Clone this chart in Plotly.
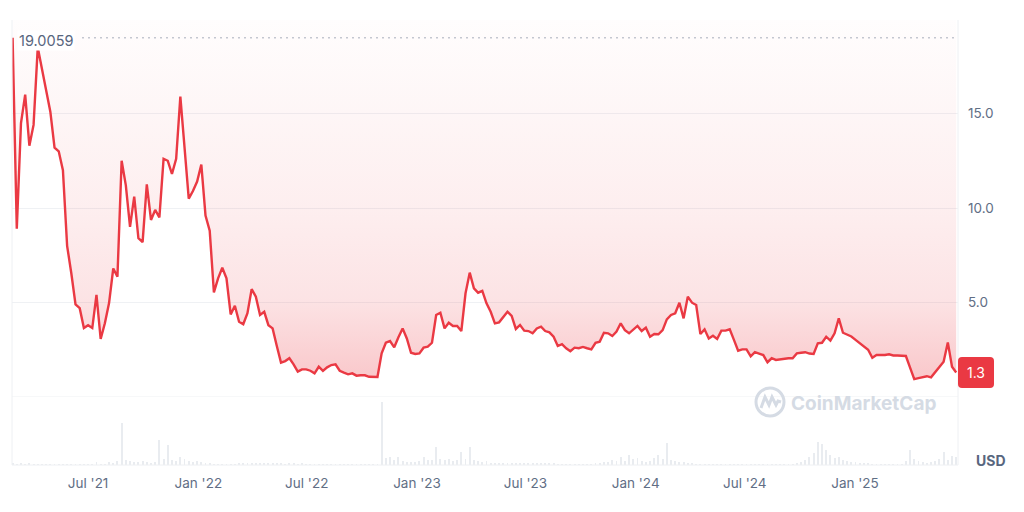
import pandas as pd
import plotly.graph_objects as go

# ---- data (weekly) ----
start_date = "2021-02-25"
price = [
    19.0059, 8.9, 14.5, 16.0, 13.3, 14.4, 18.5, 17.3, 16.2, 15.1,
    13.2, 13.0, 12.0, 8.0, 6.55, 4.9, 4.7, 3.65, 3.8, 3.65,
    5.4, 3.07, 3.9, 4.97, 6.8, 6.37, 12.5, 11.2, 9.0, 10.6,
    8.4, 8.2, 11.25, 9.37, 9.9, 9.5, 12.6, 12.5, 11.8, 12.6,
    15.9, 13.2, 10.5, 10.9, 11.4, 12.3, 9.6, 8.8, 5.54, 6.28,
    6.84, 6.28, 4.37, 4.83, 3.98, 3.85, 4.43, 5.71, 5.31, 4.34,
    4.51, 3.8, 3.63, 2.7, 1.82, 1.9, 2.05, 1.73, 1.34, 1.46,
    1.46, 1.39, 1.25, 1.6, 1.38, 1.57, 1.69, 1.73, 1.39, 1.29,
    1.2, 1.25, 1.13, 1.15, 1.15, 1.07, 1.06, 1.06, 2.31, 2.87,
    2.96, 2.63, 3.16, 3.63, 3.1, 2.34, 2.28, 2.31, 2.61, 2.66,
    2.87, 4.34, 4.46, 3.63, 3.93, 3.76, 3.76, 3.49, 5.49, 6.58,
    5.75, 5.52, 5.62, 4.96, 4.51, 3.9, 3.95, 4.22, 4.51, 4.29,
    3.6, 3.81, 3.51, 3.49, 3.37, 3.63, 3.72, 3.49, 3.42, 3.19,
    2.7, 2.8, 2.58, 2.42, 2.61, 2.58, 2.65, 2.58, 2.52, 2.87,
    2.93, 3.4, 3.37, 3.23, 3.46, 3.9, 3.54, 3.37, 3.54, 3.76,
    3.49, 3.67, 3.19, 3.33, 3.32, 3.54, 4.11, 4.34, 4.43, 4.99,
    4.16, 5.31, 4.99, 4.87, 3.33, 3.58, 3.1, 3.24, 3.07, 3.51,
    3.51, 3.58, 3.02, 2.45, 2.52, 2.52, 2.15, 2.37, 2.3, 2.22,
    1.84, 2.05, 1.96, 2.0, 2.05, 2.05, 2.05, 2.31, 2.34, 2.37,
    2.3, 2.28, 2.84, 2.87, 3.19, 2.98, 3.37, 4.16, 3.4, 3.32,
    3.2, 3.02, 2.85, 2.68, 2.5, 2.08, 2.22, 2.22, 2.22, 2.26,
    2.2, 2.2, 2.18, 2.17, 1.55, 0.95, 1.0, 1.05, 1.1, 1.04,
    1.3, 1.62, 1.87, 2.89, 1.6, 1.3,
]
volume = [
    2, 1, 2, 1, 2, 1, 0.5, 0.5, 0.5, 0.5,
    0.5, 0.5, 0.5, 0.5, 0.5, 0.5, 0.5, 0.5, 0.5, 0.5,
    3, 1, 1, 3, 2, 4, 42, 5, 4, 3,
    3, 4, 3, 2, 3, 25, 6, 20, 5, 4,
    8, 6, 4, 3, 4, 3, 2, 2, 1, 1,
    0.5, 0.5, 0.5, 0.5, 2, 1.5, 2, 1.5, 2, 1.5,
    2, 1.5, 2, 1.5, 2, 1, 2.5, 2, 1, 2,
    0.3, 0.3, 0.3, 0.3, 0.3, 0.3, 0.3, 0.3, 0.3, 0.3,
    0.3, 0.3, 0.3, 0.3, 0.3, 0.3, 0.3, 0.3, 63, 7,
    8, 5, 8, 4, 3, 3, 3, 4, 8, 5,
    5, 18, 6, 5, 6, 4, 5, 13, 6, 18,
    5, 4, 3, 4, 2, 2, 2, 1.5, 1.5, 1.5,
    1.5, 1.5, 1.5, 1.5, 1.5, 1.5, 1.5, 1.5, 1.5, 1.5,
    0.5, 0.5, 0.5, 0.5, 0.5, 0.5, 0.5, 0.5, 0.5, 2,
    2, 3, 3, 5, 4, 8, 4, 10, 6, 7,
    4, 3, 4, 7, 10, 6, 22, 5, 4, 3,
    3, 2, 2, 1, 0.5, 0.5, 0.5, 0.5, 0.5, 0.5,
    0.5, 0.5, 0.5, 0.5, 0.5, 0.5, 0.5, 0.5, 0.5, 0.5,
    0.5, 0.5, 0.5, 0.5, 0.5, 0.5, 0.5, 2, 3, 5,
    8, 12, 23, 21, 15, 10, 7, 8, 5, 4,
    3, 3, 2, 2, 2, 0.5, 0.5, 0.5, 0.5, 0.5,
    0.5, 0.5, 1, 4, 15, 6, 4, 3, 2, 3,
    4, 6, 13, 5, 9, 8,
]
y_ticks = [5.0, 10.0, 15.0]
y_tick_labels = ["5.0", "10.0", "15.0"]
max_label = "19.0059"
last_label = "1.3"
currency = "USD"

dates = pd.date_range(start_date, periods=len(price), freq="7D")

RED = "#ea3943"
TXT = "#616e85"
FONT = "Inter"
Y_MAX = 19.95

# the page body adds an 8px offset; figure is sized to fill the rest of the window
OFF = 8
W, HGT = 1024 - OFF, 512 - OFF
plot_left, plot_right = 12 - OFF, 958 - OFF
plot_top, plot_bot = 20 - OFF, 465 - OFF
PW = plot_right - plot_left
H = plot_bot - plot_top
vol_top = (465 - 398) / H
price_bot = (465 - 397) / H


def py(p):  # screen pixel y -> paper
    return (465 - p) / H


def px(p):  # screen pixel x -> paper
    return (p - 12) / PW


fig = go.Figure()

# upper boundary of the shaded band (top of the price pane)
fig.add_trace(go.Scatter(
    x=dates, y=[Y_MAX] * len(dates), mode="lines", line=dict(width=0, color="rgba(0,0,0,0)"),
    xaxis="x", yaxis="y", showlegend=False, hoverinfo="skip",
))

fig.add_trace(go.Scatter(
    x=dates, y=price, mode="lines",
    line=dict(color=RED, width=2.4),
    fill="tonexty",
    fillgradient=dict(
        type="vertical", start=0, stop=Y_MAX,
        colorscale=[
            [0.0, "rgba(234,57,67,0.32)"],
            [0.06, "rgba(234,57,67,0.27)"],
            [0.26, "rgba(234,57,67,0.14)"],
            [0.50, "rgba(234,57,67,0.085)"],
            [0.76, "rgba(234,57,67,0.045)"],
            [1.0, "rgba(234,57,67,0.01)"],
        ],
    ),
    xaxis="x", yaxis="y", showlegend=False, hoverinfo="skip",
))

fig.add_trace(go.Bar(
    x=dates, y=volume, marker=dict(color="#e9ecf0", line=dict(width=0)),
    width=1.5 * 86400000, xaxis="x", yaxis="y2", showlegend=False, hoverinfo="skip",
))

fig.update_layout(
    width=W, height=HGT,
    margin=dict(l=plot_left, r=W - plot_right, t=plot_top, b=HGT - plot_bot, pad=0),
    paper_bgcolor="white", plot_bgcolor="white",
    font=dict(family=FONT, color=TXT, size=13),
    bargap=0,
    xaxis=dict(
        type="date", range=["2021-02-24", "2025-06-22"],
        tick0="2021-07-01", dtick="M6", tickformat="%b '%y",
        showgrid=False, zeroline=False, showline=False, ticks="",
        tickfont=dict(size=13.5, color=TXT, family=FONT),
        ticklabelstandoff=8, anchor="y2",
    ),
    yaxis=dict(
        domain=[price_bot, 1], range=[0, Y_MAX], side="right",
        tickvals=y_ticks, ticktext=y_tick_labels,
        showgrid=True, gridcolor="#eff1f4", gridwidth=1,
        zeroline=False, showline=False, ticks="",
        tickfont=dict(size=13.5, color=TXT, family=FONT),
        ticklabelstandoff=9,
    ),
    yaxis2=dict(
        domain=[0, vol_top], range=[0, 67], showgrid=False, zeroline=False,
        showticklabels=False, showline=False, ticks="",
    ),
)

shapes = []
# frame lines
shapes.append(dict(type="line", xref="paper", yref="paper", x0=1, x1=1, y0=0, y1=1,
                   line=dict(color="#eef0f3", width=1)))
shapes.append(dict(type="line", xref="paper", yref="paper", x0=0, x1=0, y0=0, y1=1,
                   line=dict(color="#eef0f3", width=1)))
shapes.append(dict(type="line", xref="paper", yref="paper", x0=0, x1=1, y0=0, y1=0,
                   line=dict(color="#eef0f3", width=1)))
shapes.append(dict(type="line", xref="paper", yref="y", x0=0, x1=1, y0=0, y1=0,
                   line=dict(color="#eef0f3", width=1)))
# max dotted line
shapes.append(dict(type="line", xref="paper", yref="y", x0=px(82), x1=1,
                   y0=price[0], y1=price[0],
                   line=dict(color="#a7aebb", width=1, dash="2px,4px")))
# watermark logo
shapes.append(dict(type="circle", xref="paper", yref="paper",
                   x0=px(756), x1=px(784), y0=py(416), y1=py(388),
                   line=dict(color="#d5dbe4", width=3)))
wave = [(761, 408), (765, 397), (769, 405), (772, 397), (776, 405), (778, 401), (781, 402)]
path = "M " + " L ".join(f"{px(a):.5f},{py(b):.5f}" for a, b in wave)
shapes.append(dict(type="path", xref="paper", yref="paper", path=path,
                   line=dict(color="#d5dbe4", width=3)))
# rounded red badge for the last price (pixel-sized, anchored at the last value)
bw, bh, r = 36, 31, 4
badge = (f"M {r},{-bh/2} L {bw-r},{-bh/2} Q {bw},{-bh/2} {bw},{-bh/2+r} "
         f"L {bw},{bh/2-r} Q {bw},{bh/2} {bw-r},{bh/2} L {r},{bh/2} "
         f"Q 0,{bh/2} 0,{bh/2-r} L 0,{-bh/2+r} Q 0,{-bh/2} {r},{-bh/2} Z")
shapes.append(dict(type="path", xref="paper", yref="y", xsizemode="pixel", ysizemode="pixel",
                   xanchor=1, yanchor=price[-1], path=badge,
                   fillcolor=RED, line=dict(width=0), layer="above"))
fig.update_layout(shapes=shapes)

annotations = [
    dict(text=max_label, xref="paper", yref="y", x=px(17), y=price[0], yshift=-3,
         xanchor="left", yanchor="middle", showarrow=False, bgcolor="white",
         font=dict(size=14.5, color="#58667e", family=FONT), borderpad=1),
    dict(text=last_label, xref="paper", yref="y", x=1, xshift=18, y=price[-1],
         xanchor="center", yanchor="middle", showarrow=False,
         font=dict(size=14, color="white", family=FONT)),
    dict(text="<b>" + currency + "</b>", xref="paper", yref="paper", x=1, xshift=16,
         y=0, yshift=5, xanchor="left", yanchor="middle", showarrow=False,
         font=dict(size=14, color="#58667e", family=FONT)),
    dict(text="<b>CoinMarketCap</b>", xref="paper", yref="paper", x=px(789), y=py(403),
         xanchor="left", yanchor="middle", showarrow=False,
         font=dict(size=19, color="#d5dbe4", family=FONT)),
]
fig.update_layout(annotations=annotations)

fig.write_html("out.html")
